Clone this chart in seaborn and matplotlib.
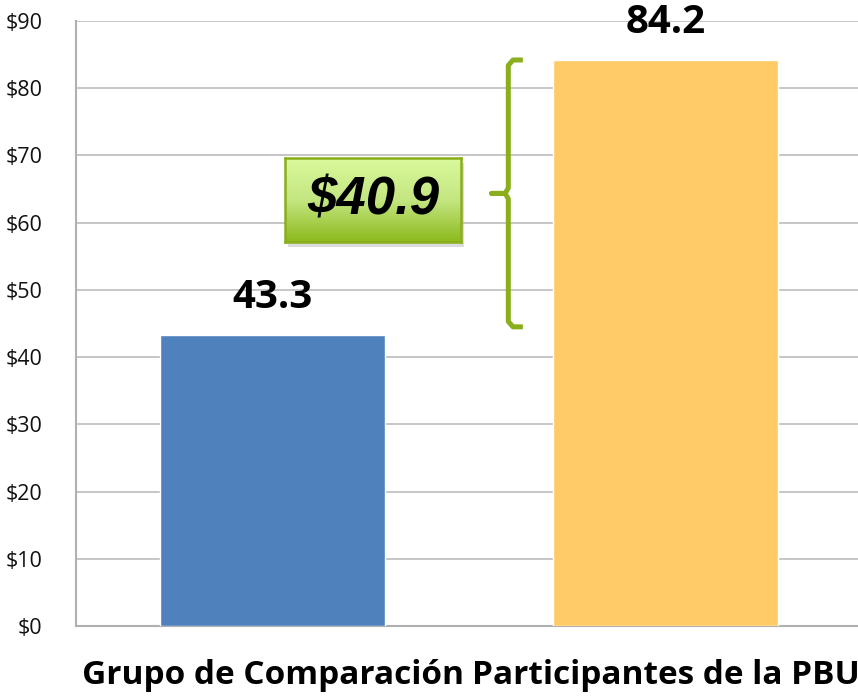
import numpy as np
import pandas as pd
import seaborn as sns
from matplotlib import pyplot as plt
from matplotlib.ticker import MultipleLocator, FuncFormatter

categories = ['Grupo de Comparación', 'Participantes de la PBU']
values = [43.3, 84.2]
bar_colors = ['#4F81BD', '#FECB66']
diff_label = '\\$40.9'

sns.set_theme(style='white')
plt.rcParams['font.family'] = ['Open Sans', 'DejaVu Sans']

fig = plt.figure(figsize=(8.58, 6.97), dpi=100)
ax = fig.add_axes([76 / 858, 71 / 697, 786 / 858, 605 / 697])

df = pd.DataFrame({'grupo': categories, 'valor': values})
sns.barplot(data=df, x='grupo', y='valor', hue='grupo', palette=bar_colors,
            width=0.573, saturation=1, legend=False, ax=ax, zorder=3)

ax.set_xlim(-0.5, 1.5)
ax.set_ylim(0, 90)
ax.yaxis.set_major_locator(MultipleLocator(10))
ax.yaxis.set_major_formatter(FuncFormatter(lambda v, p: '\\$%d' % v))
ax.yaxis.grid(True, color='#c6c6c6', linewidth=1.4, zorder=0)
ax.set_axisbelow(True)
ax.set_xlabel('')
ax.set_ylabel('')
ax.tick_params(axis='y', labelsize=15.5, length=0, pad=24, labelcolor='#111111')
ax.tick_params(axis='x', labelsize=24, length=0, pad=24)
for lbl in ax.get_xticklabels():
    lbl.set_fontweight('bold')
    lbl.set_color('black')
for side in ('top', 'right'):
    ax.spines[side].set_visible(False)
for side in ('left', 'bottom'):
    ax.spines[side].set_color('#b0b0b0')
    ax.spines[side].set_linewidth(1.5)

# value labels above bars
for i, v in enumerate(values):
    ax.annotate(f'{v:.1f}', (i, v), xytext=(0, 37), textcoords='offset pixels',
                ha='center', va='center', fontsize=29, fontweight='bold',
                color='black', zorder=5, annotation_clip=False)

# curly bracket between the two bar tops
green = '#8AAE1C'
top, bot = values[1], values[0] + 1.2
mid = (top + bot) / 2
bx = 0.60
bx_path = [
    (0.637, top), (0.612, top), (bx, top - 0.8), (bx, mid + 0.8),
    (bx - 0.008, mid), (0.558, mid), (bx - 0.008, mid), (bx, mid - 0.8),
    (bx, bot + 0.8), (0.612, bot), (0.637, bot),
]
xs, ys = zip(*bx_path)
ax.plot(xs, ys, color=green, lw=3.6, solid_joinstyle='round',
        solid_capstyle='butt', zorder=4, clip_on=False)

# green gradient box with the difference
bx0, by0, bw, bh = 285 / 858, (697 - 242) / 697, 176 / 858, 84 / 697
shadow = fig.add_axes([bx0 + 0.004, by0 - 0.007, bw, bh])
shadow.set_facecolor('#bbbbbb')
shadow.patch.set_alpha(0.5)
shadow.set_xticks([])
shadow.set_yticks([])
for s in shadow.spines.values():
    s.set_visible(False)

box = fig.add_axes([bx0, by0, bw, bh])
grad = np.linspace(0, 1, 100).reshape(-1, 1)
cmap = sns.blend_palette(['#DAF99C', '#C4E681', '#8DBA1E'], as_cmap=True)
box.imshow(grad, aspect='auto', cmap=cmap, extent=[0, 1, 0, 1])
box.set_xticks([])
box.set_yticks([])
for s in box.spines.values():
    s.set_color(green)
    s.set_linewidth(1.8)
box.text(0.5, 0.5, diff_label, transform=box.transAxes, ha='center', va='center',
         fontsize=38, fontweight='bold', fontstyle='italic',
         family=['Liberation Sans', 'DejaVu Sans'], color='black')

fig.savefig('out.png', dpi=100)
